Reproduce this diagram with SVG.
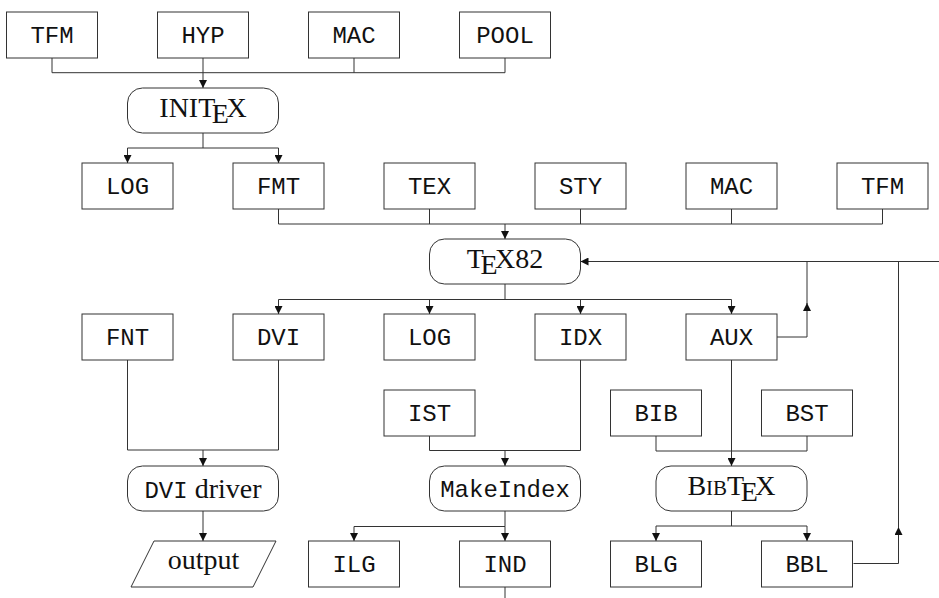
<svg xmlns="http://www.w3.org/2000/svg" width="939" height="598" viewBox="0 0 939 598">
<defs>
<marker id="ah" viewBox="0 0 8 8" refX="8" refY="4" markerWidth="8" markerHeight="8" markerUnits="userSpaceOnUse" orient="auto">
<path d="M0,0 L8,4 L0,8 z" fill="#111"/>
</marker>
</defs>
<style>
.box{fill:#fff;stroke:#333;stroke-width:1}
.m{font-family:"Liberation Mono","DejaVu Sans Mono",monospace;font-size:24px;fill:#111;text-anchor:middle}
.s{font-family:"Liberation Serif","DejaVu Serif",serif;font-size:28px;fill:#111;text-anchor:middle}
.ln{fill:none;stroke:#333;stroke-width:1}
.ar{fill:none;stroke:#333;stroke-width:1;marker-end:url(#ah)}
</style>
<rect width="939" height="598" fill="#fff"/>
<g id="connectors">
<path class="ln" d="M52,58 V72.7 H505 M203,58 V72.7 M354,58 V72.7 M505,58 V72.7"/>
<path class="ar" d="M203,72.7 V88"/>
<path class="ln" d="M203,133 V148 M127.5,148 H278.5"/>
<path class="ar" d="M127.5,148 V163"/>
<path class="ar" d="M278.5,148 V163"/>
<path class="ln" d="M278.5,209 V224 H882.5 M429.5,209 V224 M580.5,209 V224 M731.5,209 V224 M882.5,209 V224"/>
<path class="ar" d="M505,224 V239"/>
<path class="ln" d="M505,284 V299.5 M278.5,299.5 H731.5"/>
<path class="ar" d="M278.5,299.5 V314"/>
<path class="ar" d="M429.5,299.5 V314"/>
<path class="ar" d="M580.5,299.5 V314"/>
<path class="ar" d="M731.5,299.5 V314"/>
<path class="ar" d="M939,261.5 H580.5"/>
<path class="ar" d="M777,337 H807 V303"/>
<path class="ln" d="M807,304 V261.5"/>
<path class="ar" d="M853.5,563.5 H898.5 V527"/>
<path class="ln" d="M898.5,528 V261.5"/>
<path class="ln" d="M127.5,360 V450 H278.5 V360"/>
<path class="ar" d="M203,450 V466"/>
<path class="ar" d="M203,511 V541"/>
<path class="ln" d="M580.5,360 V450.5 H429.5 V436"/>
<path class="ar" d="M505,450.5 V466"/>
<path class="ln" d="M505,511 V526.5 M354,526.5 H505"/>
<path class="ar" d="M354,526.5 V541"/>
<path class="ar" d="M505,526.5 V541"/>
<path class="ln" d="M505,587 V598"/>
<path class="ln" d="M656,436 V451 H807 V436"/>
<path class="ar" d="M731.5,360 V466"/>
<path class="ln" d="M731.5,511 V526 M656,526 H807"/>
<path class="ar" d="M656,526 V541"/>
<path class="ar" d="M807,526 V541"/>
</g>
<g id="tfm1"><rect class="box" x="6.5" y="12" width="91" height="46"/><text class="m" x="52" y="43">TFM</text></g>
<g id="hyp"><rect class="box" x="157.5" y="12" width="91" height="46"/><text class="m" x="203" y="43">HYP</text></g>
<g id="mac1"><rect class="box" x="308.5" y="12" width="91" height="46"/><text class="m" x="354" y="43">MAC</text></g>
<g id="pool"><rect class="box" x="459.5" y="12" width="91" height="46"/><text class="m" x="505" y="43">POOL</text></g>
<g id="initex"><rect class="box" x="127.5" y="88" width="151" height="45" rx="15"/><text class="s" x="203" y="117">INIT<tspan dx="-3.5" dy="6">E</tspan><tspan dx="-2.5" dy="-6">X</tspan></text></g>
<g id="log1"><rect class="box" x="82" y="163" width="91" height="46"/><text class="m" x="127.5" y="194">LOG</text></g>
<g id="fmt"><rect class="box" x="233" y="163" width="91" height="46"/><text class="m" x="278.5" y="194">FMT</text></g>
<g id="tex"><rect class="box" x="384" y="163" width="91" height="46"/><text class="m" x="429.5" y="194">TEX</text></g>
<g id="sty"><rect class="box" x="535" y="163" width="91" height="46"/><text class="m" x="580.5" y="194">STY</text></g>
<g id="mac2"><rect class="box" x="686" y="163" width="91" height="46"/><text class="m" x="731.5" y="194">MAC</text></g>
<g id="tfm2"><rect class="box" x="837" y="163" width="91" height="46"/><text class="m" x="882.5" y="194">TFM</text></g>
<g id="tex82"><rect class="box" x="429.5" y="239" width="151" height="45" rx="15"/><text class="s" x="505" y="268">T<tspan dx="-3.5" dy="6">E</tspan><tspan dx="-2.5" dy="-6">X82</tspan></text></g>
<g id="fnt"><rect class="box" x="82" y="314" width="91" height="46"/><text class="m" x="127.5" y="345">FNT</text></g>
<g id="dvi"><rect class="box" x="233" y="314" width="91" height="46"/><text class="m" x="278.5" y="345">DVI</text></g>
<g id="log2"><rect class="box" x="384" y="314" width="91" height="46"/><text class="m" x="429.5" y="345">LOG</text></g>
<g id="idx"><rect class="box" x="535" y="314" width="91" height="46"/><text class="m" x="580.5" y="345">IDX</text></g>
<g id="aux"><rect class="box" x="686" y="314" width="91" height="46"/><text class="m" x="731.5" y="345">AUX</text></g>
<g id="ist"><rect class="box" x="384" y="390" width="91" height="46"/><text class="m" x="429.5" y="421">IST</text></g>
<g id="bib"><rect class="box" x="610.5" y="390" width="91" height="46"/><text class="m" x="656" y="421">BIB</text></g>
<g id="bst"><rect class="box" x="761.5" y="390" width="91" height="46"/><text class="m" x="807" y="421">BST</text></g>
<g id="dvidriver"><rect class="box" x="127.5" y="466" width="151" height="45" rx="15"/><text class="s" x="203" y="498" font-size="27"><tspan style="font-family:'Liberation Mono','DejaVu Sans Mono',monospace;font-size:24px">DVI</tspan> driver</text></g>
<g id="makeindex"><rect class="box" x="429.5" y="466" width="151" height="45" rx="15"/><text class="m" x="505" y="497">MakeIndex</text></g>
<g id="bibtex"><rect class="box" x="656" y="466" width="151" height="45" rx="15"/><text class="s" x="731.5" y="495">B<tspan font-size="21">IB</tspan>T<tspan dx="-3.5" dy="6">E</tspan><tspan dx="-2.5" dy="-6">X</tspan></text></g>
<g id="output"><path class="box" d="M154,541 H276 L253,587 H131 z"/><text class="s" x="203.5" y="569">output</text></g>
<g id="ilg"><rect class="box" x="308.5" y="541" width="91" height="46"/><text class="m" x="354" y="572">ILG</text></g>
<g id="ind"><rect class="box" x="459.5" y="541" width="91" height="46"/><text class="m" x="505" y="572">IND</text></g>
<g id="blg"><rect class="box" x="610.5" y="541" width="91" height="46"/><text class="m" x="656" y="572">BLG</text></g>
<g id="bbl"><rect class="box" x="761.5" y="541" width="91" height="46"/><text class="m" x="807" y="572">BBL</text></g>
</svg>
